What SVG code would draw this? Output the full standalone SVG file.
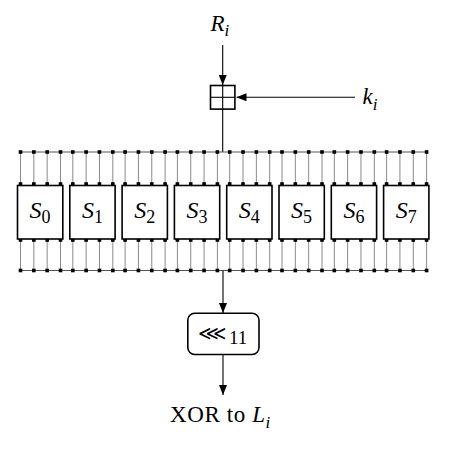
<svg xmlns="http://www.w3.org/2000/svg" width="452" height="450" viewBox="0 0 452 450">
<defs>
<style>
.t{font-family:"Liberation Serif","DejaVu Serif",serif;fill:#000}
.it{font-style:italic}
.box{fill:#fff;stroke:#000;stroke-width:1.6}
.ln{stroke:#000;stroke-width:1.1;fill:none}
.bus{stroke:#555;stroke-width:1.1;fill:none}
.w{stroke:#8a8a8a;stroke-width:1}
.dot{fill:#000}
</style>
<marker id="ah" viewBox="0 0 10 8" refX="10" refY="4" markerWidth="10" markerHeight="8" markerUnits="userSpaceOnUse" orient="auto">
<path d="M0,0 L10,4 L0,8 Z" fill="#000"/>
</marker>
<g id="col">
<line class="w" x1="0" y1="152" x2="0" y2="184"/>
<line class="w" x1="0" y1="240" x2="0" y2="270.5"/>
<rect class="dot" x="-1.8" y="150.2" width="3.6" height="3.6"/>
<rect class="dot" x="-1.8" y="182.2" width="3.6" height="3.6"/>
<rect class="dot" x="-1.8" y="238.2" width="3.6" height="3.6"/>
<rect class="dot" x="-1.8" y="268.7" width="3.6" height="3.6"/>
</g>
<g id="quad">
<use href="#col" x="0"/>
<use href="#col" x="13.33"/>
<use href="#col" x="26.67"/>
<use href="#col" x="40"/>
</g>
</defs>
<rect width="452" height="450" fill="#fff"/>

<g id="connectors">
<line class="ln" x1="222.7" y1="45" x2="222.7" y2="85" marker-end="url(#ah)"/>
<line class="ln" x1="355" y1="97.3" x2="236.5" y2="97.3" marker-end="url(#ah)"/>
<line class="ln" x1="222.7" y1="109.5" x2="222.7" y2="152"/>
<line class="bus" x1="20.5" y1="152" x2="426.6" y2="152"/>
<line class="bus" x1="20.5" y1="270.5" x2="426.6" y2="270.5"/>
<g id="wires">
<use href="#quad" x="20.5"/>
<use href="#quad" x="72.8"/>
<use href="#quad" x="125.1"/>
<use href="#quad" x="177.4"/>
<use href="#quad" x="229.7"/>
<use href="#quad" x="282"/>
<use href="#quad" x="334.3"/>
<use href="#quad" x="386.6"/>
</g>
<line class="ln" x1="223" y1="270.5" x2="223" y2="313" marker-end="url(#ah)"/>
<line class="ln" x1="223" y1="354.5" x2="223" y2="395" marker-end="url(#ah)"/>
</g>

<g id="ri">
<text class="t it" x="210.5" y="30.7" font-size="23">R<tspan font-size="17" dy="5">i</tspan></text>
</g>
<g id="ki">
<text class="t it" x="362.5" y="104" font-size="23">k<tspan font-size="17" dy="5.5">i</tspan></text>
</g>
<g id="add">
<rect class="box" x="210.5" y="85.5" width="24.4" height="23.6"/>
<line class="ln" x1="222.7" y1="85.5" x2="222.7" y2="109.1"/>
<line class="ln" x1="210.5" y1="97.3" x2="234.9" y2="97.3"/>
</g>

<g id="s0"><rect class="box" x="17.5" y="185.5" width="45.3" height="53.5"/><text class="t" x="40.1" y="218.3" font-size="24" text-anchor="middle"><tspan class="it">S</tspan><tspan font-size="18" dy="5">0</tspan></text></g>
<g id="s1"><rect class="box" x="69.8" y="185.5" width="45.3" height="53.5"/><text class="t" x="92.4" y="218.3" font-size="24" text-anchor="middle"><tspan class="it">S</tspan><tspan font-size="18" dy="5">1</tspan></text></g>
<g id="s2"><rect class="box" x="122.1" y="185.5" width="45.3" height="53.5"/><text class="t" x="144.7" y="218.3" font-size="24" text-anchor="middle"><tspan class="it">S</tspan><tspan font-size="18" dy="5">2</tspan></text></g>
<g id="s3"><rect class="box" x="174.4" y="185.5" width="45.3" height="53.5"/><text class="t" x="197" y="218.3" font-size="24" text-anchor="middle"><tspan class="it">S</tspan><tspan font-size="18" dy="5">3</tspan></text></g>
<g id="s4"><rect class="box" x="226.7" y="185.5" width="45.3" height="53.5"/><text class="t" x="249.3" y="218.3" font-size="24" text-anchor="middle"><tspan class="it">S</tspan><tspan font-size="18" dy="5">4</tspan></text></g>
<g id="s5"><rect class="box" x="279" y="185.5" width="45.3" height="53.5"/><text class="t" x="301.6" y="218.3" font-size="24" text-anchor="middle"><tspan class="it">S</tspan><tspan font-size="18" dy="5">5</tspan></text></g>
<g id="s6"><rect class="box" x="331.3" y="185.5" width="45.3" height="53.5"/><text class="t" x="353.9" y="218.3" font-size="24" text-anchor="middle"><tspan class="it">S</tspan><tspan font-size="18" dy="5">6</tspan></text></g>
<g id="s7"><rect class="box" x="383.6" y="185.5" width="45.3" height="53.5"/><text class="t" x="406.2" y="218.3" font-size="24" text-anchor="middle"><tspan class="it">S</tspan><tspan font-size="18" dy="5">7</tspan></text></g>

<g id="rot">
<rect class="box" x="187.8" y="313.2" width="71.2" height="41.3" rx="7"/>
<text x="197.5" y="339.5" font-size="20" style="font-family:'DejaVu Sans',sans-serif;font-weight:200">⋘</text>
<text class="t" x="229" y="344" font-size="19">11</text>
</g>

<g id="out">
<text class="t" x="170" y="422.3" font-size="23" letter-spacing="0.6">XOR to <tspan class="it">L</tspan><tspan class="it" font-size="17" dy="5.5" letter-spacing="0">i</tspan></text>
</g>
</svg>
